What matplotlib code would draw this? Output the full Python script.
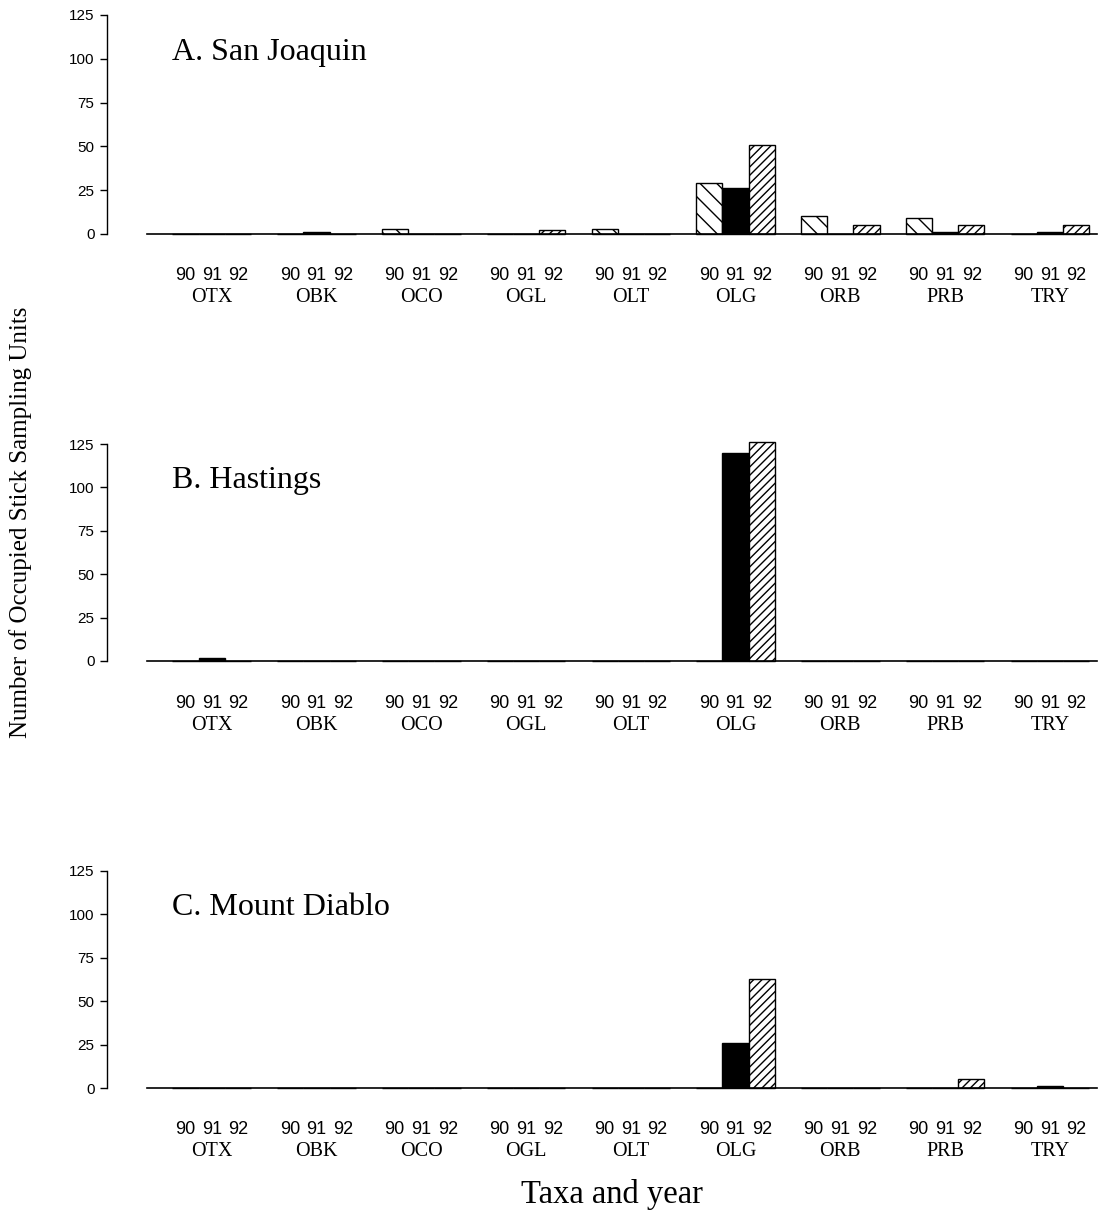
import matplotlib
matplotlib.use("Agg")
import matplotlib.pyplot as plt
import numpy as np

taxa = ["OTX", "OBK", "OCO", "OGL", "OLT", "OLG", "ORB", "PRB", "TRY"]
years = ["90", "91", "92"]
panel_titles = ["A. San Joaquin", "B. Hastings", "C. Mount Diablo"]

# values per panel: one list per year (90, 91, 92), columns = taxa
sanjoaquin_90 = [0, 0, 3, 0, 3, 29, 10, 9, 0]
sanjoaquin_91 = [0, 1, 0, 0, 0, 26, 0, 1, 1]
sanjoaquin_92 = [0, 0, 0, 2, 0, 51, 5, 5, 5]

hastings_90 = [0, 0, 0, 0, 0, 0, 0, 0, 0]
hastings_91 = [2, 0, 0, 0, 0, 120, 0, 0, 0]
hastings_92 = [0, 0, 0, 0, 0, 126, 0, 0, 0]

diablo_90 = [0, 0, 0, 0, 0, 0, 0, 0, 0]
diablo_91 = [0, 0, 0, 0, 0, 26, 0, 0, 1]
diablo_92 = [0, 0, 0, 0, 0, 63, 0, 5, 0]

yticks = [0, 25, 50, 75, 100, 125]

panels = [
    (sanjoaquin_90, sanjoaquin_91, sanjoaquin_92),
    (hastings_90, hastings_91, hastings_92),
    (diablo_90, diablo_91, diablo_92),
]

plt.rcParams['hatch.linewidth'] = 1.0
serif = ["Liberation Serif", "DejaVu Serif"]
sans = ["Liberation Sans", "DejaVu Sans"]

W, H = 1109, 1210
fig = plt.figure(figsize=(W / 100, H / 100), dpi=100)

# axes pixel boxes (top, bottom)
boxes = [(15, 234), (444, 661), (871, 1088)]
left_px, right_px = 107, 1097

styles = [
    dict(facecolor="white", hatch="\\\\", edgecolor="black"),
    dict(facecolor="black", hatch=None, edgecolor="black"),
    dict(facecolor="white", hatch="////", edgecolor="black"),
]

x = np.arange(len(taxa))
bw = 0.25
for (top, bot), title, data in zip(boxes, panel_titles, panels):
    ax = fig.add_axes([left_px / W, 1 - bot / H, (right_px - left_px) / W, (bot - top) / H])
    for k, vals in enumerate(data):
        ax.bar(x + (k - 1) * bw, vals, width=bw, linewidth=1.0, clip_on=False, **styles[k])
    ax.set_xlim(-1.0, 8.45)
    ax.set_ylim(0, 125)
    ax.set_yticks(yticks)
    ax.set_yticklabels([str(t) for t in yticks], fontfamily=sans, fontsize=11)
    ax.tick_params(axis='y', direction='out', length=5, width=1, pad=4)
    ax.set_xticks([])
    for s in ["top", "right"]:
        ax.spines[s].set_visible(False)
    ax.spines["left"].set_linewidth(1.0)
    ax.spines["bottom"].set_linewidth(1.2)
    ax.spines["bottom"].set_bounds(-0.62, 8.45)
    ax.text(0.0657, 0.83, title, transform=ax.transAxes, fontfamily=serif,
            fontsize=23, va="center", ha="left")
    for i, t in enumerate(taxa):
        for k, yr in enumerate(years):
            ax.annotate(yr, xy=(i + (k - 1) * 0.255, 0),
                        xycoords=("data", "axes fraction"),
                        xytext=(0, -42), textcoords="offset pixels",
                        ha="center", va="center", fontfamily=sans, fontsize=13)
        ax.annotate(t, xy=(i, 0), xycoords=("data", "axes fraction"),
                    xytext=(0, -64), textcoords="offset pixels",
                    ha="center", va="center", fontfamily=serif, fontsize=14.5)

fig.text(21 / W, 1 - 522 / H, "Number of Occupied Stick Sampling Units",
         rotation=90, ha="center", va="center", fontfamily=serif, fontsize=18)
fig.text(612 / W, 1 - 1194 / H, "Taxa and year", ha="center", va="center",
         fontfamily=serif, fontsize=23.5)

fig.savefig("out.png", dpi=100, facecolor="white")
